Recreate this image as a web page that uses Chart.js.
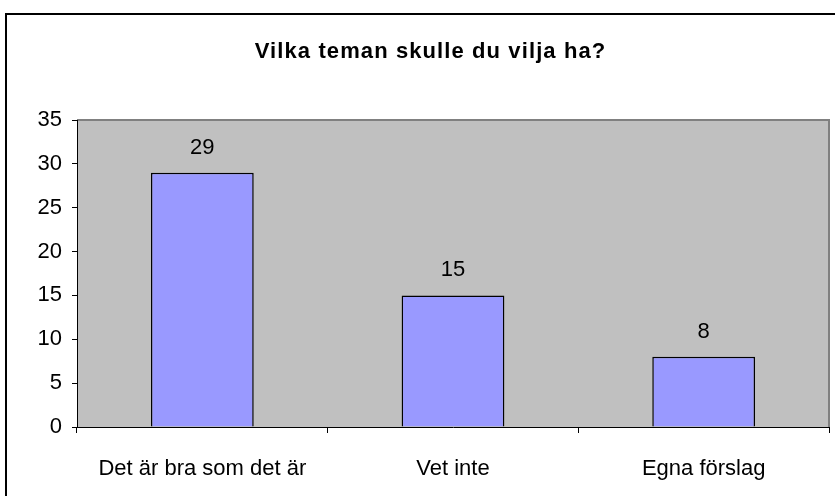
<!DOCTYPE html>
<html>
<head>
<meta charset="utf-8">
<title>Vilka teman skulle du vilja ha?</title>
<script src="https://cdn.jsdelivr.net/npm/chart.js@4/dist/chart.umd.min.js"></script>
<style>
  html, body { margin: 0; padding: 0; background: #fff; overflow: hidden; }
  #wrap { position: relative; width: 835px; height: 496px; }
  #frame { position: absolute; left: 5px; top: 13px; width: 900px; height: 600px; border: 2px solid #000; box-sizing: border-box; }
  canvas { position: absolute; left: 0; top: 0; }
</style>
</head>
<body>
<div id="wrap">
  <div id="frame"></div>
  <canvas id="chart" width="835" height="496"></canvas>
</div>
<script>
// chart data
const categories = ['Det är bra som det är', 'Vet inte', 'Egna förslag'];
const answers = [29, 15, 8];
const yTicks = [0, 5, 10, 15, 20, 25, 30, 35];
const chartTitle = 'Vilka teman skulle du vilja ha?';

const FONT = 'Arial, "Liberation Sans", sans-serif';

const canvas = document.getElementById('chart');
const context = canvas.getContext('2d');

// the title in the original is a bit more spread out than plain Arial bold
const baseFillText = context.fillText;
context.fillText = function (text, x, y, maxWidth) {
  if (text === chartTitle) {
    this.save();
    this.letterSpacing = '1.1px';
    baseFillText.call(this, text, x, y);
    this.restore();
    return;
  }
  return maxWidth === undefined ? baseFillText.call(this, text, x, y)
                                : baseFillText.call(this, text, x, y, maxWidth);
};

// gray plot background with a darker top/right edge, like the old Excel look
const plotBackground = {
  id: 'plotBackground',
  beforeDraw(chart) {
    const { ctx, chartArea: a } = chart;
    ctx.save();
    ctx.fillStyle = '#c0c0c0';
    ctx.fillRect(a.left, a.top, a.right - a.left, a.bottom - a.top);
    ctx.strokeStyle = '#808080';
    ctx.lineWidth = 2;
    ctx.beginPath();
    ctx.moveTo(a.left, a.top);
    ctx.lineTo(a.right, a.top);
    ctx.lineTo(a.right, a.bottom);
    ctx.stroke();
    ctx.restore();
  }
};

// value above each bar
const barValues = {
  id: 'barValues',
  afterDatasetsDraw(chart) {
    const { ctx } = chart;
    const meta = chart.getDatasetMeta(0);
    ctx.save();
    ctx.font = '22px ' + FONT;
    ctx.fillStyle = '#000';
    ctx.textAlign = 'center';
    ctx.textBaseline = 'alphabetic';
    meta.data.forEach((bar, i) => {
      ctx.fillText(String(answers[i]), bar.x, bar.y - 19);
    });
    ctx.restore();
  }
};

new Chart(context, {
  type: 'bar',
  data: {
    labels: categories,
    datasets: [{
      data: answers,
      backgroundColor: '#9999ff',
      borderColor: '#000',
      borderWidth: 1.5,
      barPercentage: 0.41,
      categoryPercentage: 1
    }]
  },
  options: {
    responsive: false,
    animation: false,
    layout: { padding: { left: 32, right: 6, top: 0, bottom: 0 } },
    plugins: {
      legend: { display: false },
      tooltip: { enabled: false },
      title: {
        display: true,
        text: chartTitle,
        color: '#000',
        font: { family: FONT, size: 22, weight: 'bold' },
        padding: { top: 38.5, bottom: 55.1 }
      }
    },
    scales: {
      x: {
        grid: {
          offset: true,
          drawOnChartArea: false,
          drawTicks: true,
          tickLength: 6,
          color: '#000'
        },
        border: { display: true, color: '#000', width: 1 },
        ticks: {
          color: '#000',
          font: { family: FONT, size: 22 },
          padding: 23,
          maxRotation: 0,
          autoSkip: false
        },
        afterFit(scale) { scale.height = 69; }
      },
      y: {
        min: 0,
        max: 35,
        afterBuildTicks(scale) { scale.ticks = yTicks.map(v => ({ value: v })); },
        grid: {
          drawOnChartArea: false,
          drawTicks: true,
          tickLength: 5,
          color: '#000'
        },
        border: { display: true, color: '#000', width: 1 },
        ticks: {
          color: '#000',
          font: { family: FONT, size: 22 },
          padding: 10
        },
        afterFit(scale) { scale.width = 45; }
      }
    }
  },
  plugins: [plotBackground, barValues]
});
</script>
</body>
</html>
